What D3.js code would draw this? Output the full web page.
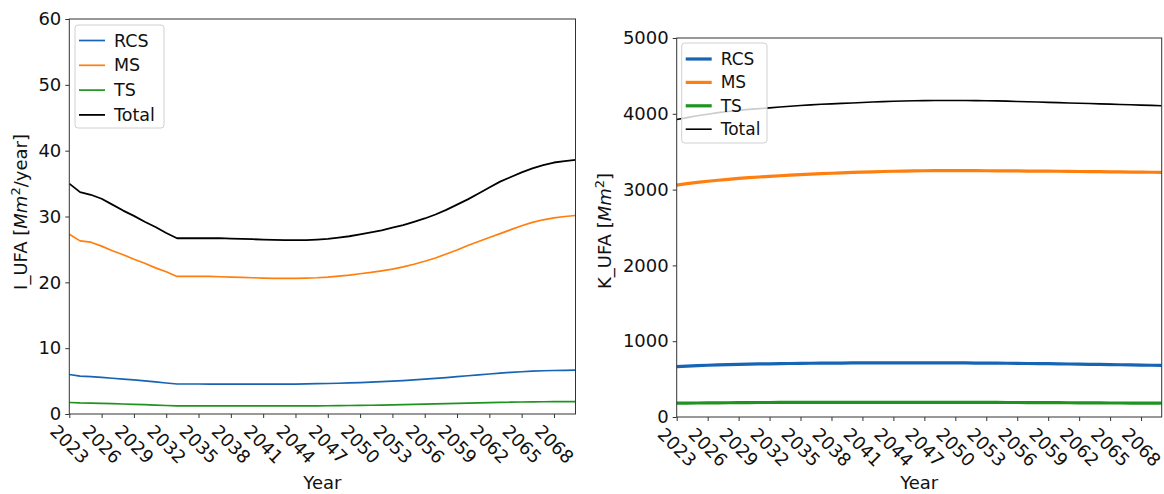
<!DOCTYPE html>
<html><head><meta charset="utf-8">
<script src="https://cdn.jsdelivr.net/npm/d3@7"></script>
<style>
html,body{margin:0;padding:0;background:#fff;}
svg text{font-family:"DejaVu Sans",sans-serif;fill:#111;}
</style></head>
<body><svg id="c" width="1164" height="494"></svg>
<script>
const years = d3.range(2023, 2071);
const xTicks = d3.range(2023, 2069, 3);
const seriesNames = ["RCS", "MS", "TS", "Total"];
const colors = ["#1764b4", "#ff7f0e", "#1f931f", "#000000"];

// Left panel: I_UFA [Mm^2/year]
const iRCS = [6.0,5.75,5.68,5.57,5.43,5.30,5.17,5.02,4.87,4.71,4.56,4.56,4.56,4.55,4.55,4.55,4.54,4.54,4.54,4.54,4.54,4.55,4.57,4.60,4.63,4.67,4.72,4.78,4.84,4.91,4.99,5.08,5.18,5.29,5.41,5.54,5.67,5.81,5.95,6.08,6.20,6.32,6.42,6.50,6.57,6.61,6.64,6.66];
const iMS = [27.3,26.3,26.1,25.5,24.8,24.2,23.5,22.9,22.2,21.6,20.9,20.9,20.9,20.9,20.85,20.8,20.75,20.7,20.65,20.6,20.6,20.6,20.65,20.7,20.8,20.95,21.1,21.3,21.5,21.75,22.0,22.35,22.75,23.2,23.7,24.3,24.9,25.6,26.2,26.8,27.4,28.0,28.6,29.1,29.5,29.8,30.0,30.15];
const iTS = [1.75,1.68,1.66,1.62,1.57,1.52,1.47,1.41,1.35,1.29,1.23,1.23,1.23,1.23,1.23,1.23,1.23,1.23,1.23,1.23,1.23,1.23,1.23,1.24,1.25,1.27,1.29,1.31,1.33,1.36,1.39,1.42,1.45,1.49,1.53,1.57,1.61,1.65,1.69,1.73,1.76,1.79,1.82,1.84,1.86,1.87,1.88,1.88];
const iTotal = [35.0,33.7,33.3,32.7,31.8,30.9,30.1,29.2,28.4,27.5,26.7,26.7,26.7,26.7,26.7,26.65,26.6,26.55,26.5,26.45,26.4,26.4,26.4,26.5,26.6,26.8,27.0,27.3,27.6,27.9,28.3,28.7,29.2,29.7,30.3,31.0,31.8,32.6,33.5,34.4,35.3,36.0,36.7,37.3,37.8,38.2,38.4,38.6];
const iTicks = [0,10,20,30,40,50,60];

// Right panel: K_UFA [Mm^2]
const kRCS = [665,672,678,683,687,691,694,697,700,702,704,706,708,709,710,711,712,713,714,714,715,715,715,715,715,715,714,714,713,712,711,710,709,708,706,705,703,701,699,697,695,693,691,689,687,685,683,681];
const kMS = [3060,3078,3095,3110,3123,3135,3147,3157,3166,3175,3183,3191,3198,3205,3211,3216,3221,3226,3231,3235,3239,3242,3245,3247,3249,3250,3251,3251,3251,3250,3249,3248,3247,3246,3245,3244,3243,3242,3240,3239,3237,3236,3234,3233,3231,3230,3229,3228];
const kTS = [182,184,185,186,187,188,189,190,191,191,192,192,193,193,193,194,194,194,194,194,194,194,194,194,194,194,194,193,193,193,192,192,191,191,190,190,189,189,188,187,187,186,185,185,184,183,183,182];
const kTotal = [3925,3950,3975,3995,4015,4030,4045,4058,4068,4078,4090,4100,4110,4118,4125,4131,4137,4143,4150,4156,4161,4165,4169,4172,4174,4175,4176,4176,4175,4174,4172,4170,4167,4163,4159,4155,4151,4147,4143,4139,4135,4131,4127,4123,4119,4115,4111,4107];
const kTicks = [0,1000,2000,3000,4000,5000];

const svg = d3.select("#c");

function panel(cfg){
  const x = d3.scaleLinear().domain([2023, 2070]).range([cfg.x0, cfg.x1]);
  const y = d3.scaleLinear().domain(cfg.yDomain).range([cfg.y1, cfg.y0]);
  const g = svg.append("g");
  const line = d3.line().x((d,i)=>x(years[i])).y(d=>y(d));
  cfg.series.forEach((s,i)=>{
    g.append("path").datum(s).attr("d", line)
      .attr("fill","none").attr("stroke", colors[i])
      .attr("stroke-width", cfg.widths[i]).attr("stroke-linejoin","round");
  });
  // spines
  g.append("rect").attr("x",cfg.x0).attr("y",cfg.y0)
    .attr("width",cfg.x1-cfg.x0).attr("height",cfg.y1-cfg.y0)
    .attr("fill","none").attr("stroke","#333").attr("stroke-width",1);
  // x axis ticks
  const xa = g.append("g").attr("transform",`translate(0,${cfg.y1})`)
    .call(d3.axisBottom(x).tickValues(xTicks).tickSize(4).tickFormat(d3.format("d")));
  xa.select(".domain").remove();
  xa.selectAll(".tick line").attr("stroke","#333");
  xa.selectAll(".tick text")
    .attr("font-size", 18).attr("fill","#111")
    .attr("text-anchor","middle").attr("dy",null).attr("y",null)
    .attr("dominant-baseline","central")
    .attr("transform","translate(0,30) rotate(45)");
  // y axis ticks
  const ya = g.append("g").attr("transform",`translate(${cfg.x0},0)`)
    .call(d3.axisLeft(y).tickValues(cfg.yTicks).tickSize(4).tickPadding(4).tickFormat(d3.format("d")));
  ya.select(".domain").remove();
  ya.selectAll(".tick line").attr("stroke","#333");
  ya.selectAll(".tick text").attr("font-size",18).attr("fill","#111");
  // x label
  g.append("text").attr("x",(cfg.x0+cfg.x1)/2).attr("y",cfg.xly)
    .attr("text-anchor","middle").attr("font-size",18).text("Year");
  // y label
  const yl = g.append("text").attr("transform",`translate(${cfg.ylx},${cfg.yly}) rotate(-90)`)
    .attr("text-anchor","middle").attr("font-size",18);
  yl.append("tspan").text(cfg.ylabel + " [");
  yl.append("tspan").attr("font-style","italic").text("Mm");
  yl.append("tspan").attr("font-size",13).attr("dy",-7).text("2");
  yl.append("tspan").attr("dy",7).text(cfg.ylabelTail + "]");
  // legend
  const L = cfg.legend;
  const lg = g.append("g");
  lg.append("rect").attr("x",L.x).attr("y",L.y).attr("width",L.w).attr("height",L.h)
    .attr("rx",3).attr("fill","#fff").attr("fill-opacity",0.8)
    .attr("stroke","#d0d0d0").attr("stroke-width",1);
  seriesNames.forEach((n,i)=>{
    const yy = L.rowY + i*L.dy;
    lg.append("line").attr("x1",L.x+4).attr("x2",L.x+30).attr("y1",yy).attr("y2",yy)
      .attr("stroke",colors[i]).attr("stroke-width",cfg.widths[i]);
    lg.append("text").attr("x",L.x+39).attr("y",yy+6).attr("font-size",L.fs).text(n);
  });
}

panel({x0:69.3,x1:575.5,y0:19,y1:414,yDomain:[0,60],yTicks:iTicks,
  series:[iRCS,iMS,iTS,iTotal],widths:[1.7,1.7,1.7,1.8],
  ylabel:"I_UFA",ylabelTail:"/year",ylx:27,yly:212,xly:489,
  legend:{x:75,y:25,w:89,h:103,rowY:40.5,dy:24.8,fs:17.5}});

panel({x0:676.7,x1:1161.7,y0:38,y1:417,yDomain:[0,5000],yTicks:kTicks,
  series:[kRCS,kMS,kTS,kTotal],widths:[3.2,3.2,3.2,1.6],
  ylabel:"K_UFA",ylabelTail:"",ylx:611,yly:231,xly:489,
  legend:{x:681.7,y:43,w:85.3,h:100,rowY:59,dy:23.4,fs:17}});
</script></body></html>
